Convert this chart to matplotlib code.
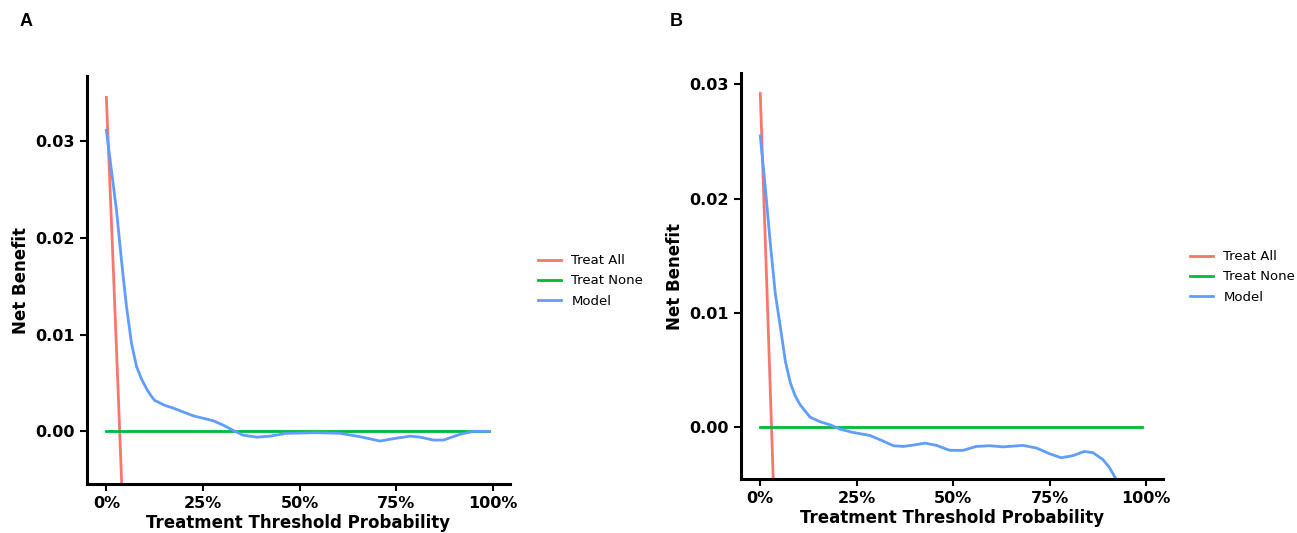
import numpy as np
import matplotlib.pyplot as plt
from matplotlib.ticker import PercentFormatter

# ---- decision curve data ----
prev_a = 0.0345
prev_b = 0.0292

thr_a = [0.0, 0.013, 0.026, 0.039, 0.052, 0.065, 0.078, 0.091, 0.104, 0.115, 0.125, 0.15, 0.173,
         0.225, 0.276, 0.302, 0.328, 0.354, 0.389, 0.423, 0.466, 0.544, 0.604,
         0.656, 0.708, 0.751, 0.786, 0.812, 0.846, 0.872, 0.915, 0.95, 0.99]
model_a = [0.0311, 0.0270, 0.0229, 0.0177, 0.0129, 0.0091, 0.0067, 0.0054, 0.0044, 0.0037, 0.0032, 0.0027, 0.0024,
           0.0016, 0.0011, 0.00065, 0.0001, -0.0004, -0.0006, -0.0005, -0.0002, -0.00014, -0.0002,
           -0.00055, -0.0010, -0.0007, -0.0005, -0.0006, -0.0009, -0.0009, -0.0003, 0.0, 0.0]

thr_b = [0.0, 0.013, 0.026, 0.039, 0.052, 0.065, 0.078, 0.09, 0.103, 0.129, 0.155,
         0.181, 0.207, 0.241, 0.284, 0.319, 0.345, 0.371, 0.397, 0.427, 0.457,
         0.491, 0.526, 0.56, 0.595, 0.629, 0.681, 0.716, 0.75, 0.78, 0.81,
         0.84, 0.862, 0.888, 0.905, 0.922, 0.93]
model_b = [0.0255, 0.0210, 0.0161, 0.0117, 0.0088, 0.0058, 0.0039, 0.0028, 0.0020, 0.0009, 0.0005,
           0.00023, -0.00015, -0.00044, -0.0007, -0.0012, -0.0016, -0.00166, -0.00154, -0.00137, -0.00157,
           -0.0020, -0.0020, -0.00166, -0.0016, -0.0017, -0.00157, -0.0018, -0.0023, -0.00265, -0.00247,
           -0.0021, -0.0022, -0.0028, -0.0035, -0.0045, -0.0055]

C_ALL = "#F8766D"
C_NONE = "#00BA38"
C_MODEL = "#619CFF"

W, H = 1297, 533
fig = plt.figure(figsize=(W / 100, H / 100), dpi=100)
ax_a = fig.add_axes([0.0671, 0.0919, 0.3261, 0.7655])
ax_b = fig.add_axes([0.5713, 0.1013, 0.3254, 0.7617])


def draw(ax, prev, thr, model, ylim, yticks):
    pt = np.linspace(0, 0.99, 200)
    treat_all = prev - (1 - prev) * pt / (1 - pt)
    ax.plot(pt, treat_all, color=C_ALL, lw=2, label="Treat All")
    ax.plot([0, 0.99], [0, 0], color=C_NONE, lw=2, label="Treat None")
    ax.plot(thr, model, color=C_MODEL, lw=2, label="Model")
    ax.set_xlim(-0.05, 1.044)
    ax.set_ylim(*ylim)
    ax.set_xticks([0, 0.25, 0.5, 0.75, 1.0])
    ax.xaxis.set_major_formatter(PercentFormatter(1.0, decimals=0))
    ax.set_yticks(yticks)
    ax.set_yticklabels([f"{v:.2f}" for v in yticks])
    for s in ["top", "right"]:
        ax.spines[s].set_visible(False)
    for s in ["left", "bottom"]:
        ax.spines[s].set_linewidth(2.2)
    ax.tick_params(width=1.5, length=5, labelsize=11.5)
    for lab in ax.get_xticklabels() + ax.get_yticklabels():
        lab.set_fontweight("bold")
    ax.set_xlabel("Treatment Threshold Probability", fontsize=12,
                  fontweight="bold", labelpad=2)
    ax.set_ylabel("Net Benefit", fontsize=12, fontweight="bold")


draw(ax_a, prev_a, thr_a, model_a, (-0.00544, 0.0367), [0.0, 0.01, 0.02, 0.03])
draw(ax_b, prev_b, thr_b, model_b, (-0.00451, 0.031), [0.0, 0.01, 0.02, 0.03])

leg_kw = dict(frameon=False, fontsize=9.5, handlelength=1.75, handletextpad=0.75,
              labelspacing=0.55, borderaxespad=0, loc="center left")
h, l = ax_a.get_legend_handles_labels()
fig.legend(h, l, bbox_to_anchor=(533 / W, 1 - 281 / H), **leg_kw)
h, l = ax_b.get_legend_handles_labels()
fig.legend(h, l, bbox_to_anchor=(1185 / W, 1 - 277 / H), **leg_kw)

fig.text(20 / W, 1 - 21 / H, "A", fontsize=13, fontweight="bold",
         family="Liberation Sans", va="center")
fig.text(670 / W, 1 - 21 / H, "B", fontsize=13, fontweight="bold",
         family="Liberation Sans", va="center")

fig.savefig("out.png", dpi=100)
